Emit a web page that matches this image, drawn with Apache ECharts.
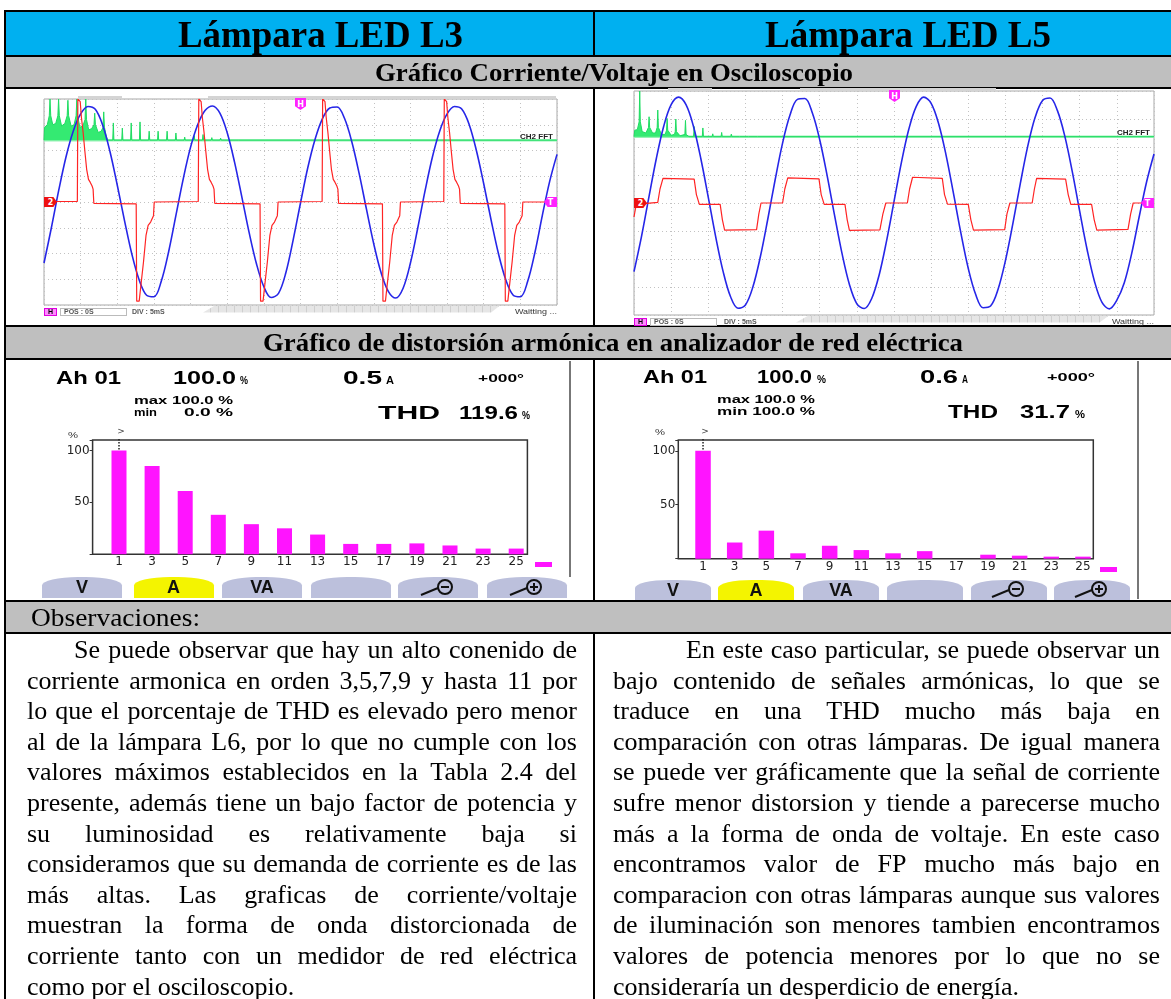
<!DOCTYPE html>
<html>
<head>
<meta charset="utf-8">
<script src="https://cdn.jsdelivr.net/npm/echarts@6/dist/echarts.min.js"></script>
<style>
  html, body { margin:0; padding:0; background:#fff; }
  body { width:1171px; height:999px; position:relative; overflow:hidden; }
  #bg, #ov { position:absolute; left:0; top:0; width:1171px; height:999px; }
  #bg { z-index:1; }
  #chart { position:absolute; left:0; top:0; width:1171px; height:999px; z-index:2; }
  #ov { z-index:3; pointer-events:none; }
  .r { position:absolute; }
  .t { position:absolute; white-space:nowrap; transform-origin:0 50%; }
  .ln { position:absolute; display:flex; justify-content:space-between; white-space:nowrap;
        font-family:'Liberation Serif','Times New Roman',serif; font-size:26px; height:30.6px; line-height:30.6px; color:#000; }
  .ln.last { justify-content:flex-start; }
  .btn { position:absolute; background:#bcc0dc; border-radius:45% 45% 0 0 / 40% 40% 0 0; display:flex; align-items:center; justify-content:center;
         font-family:'Liberation Sans',Arial,sans-serif; font-weight:bold; font-size:18px; color:#111; }
  .mk { position:absolute; color:#fff; font-family:'DejaVu Sans',sans-serif; font-weight:bold; font-size:8px; display:flex; align-items:center; justify-content:center; }
</style>
</head>
<body>
<div id="bg"></div>
<div id="chart"></div>
<div id="ov"></div>
<script>
// ================= DATA =================
const headerTitles = ['Lámpara LED L3', 'Lámpara LED L5'];
const sectionTitles = ['Gráfico Corriente/Voltaje en Osciloscopio',
                       'Gráfico de distorsión armónica en analizador de red eléctrica',
                       'Observaciones:'];

// Oscilloscope: time (ms), 5 ms/div
const timeMs = [0,1,2,3,4,5,6,7,8,9,10,11,12,13,14,15,16,17,18,19,20,21,22,23,24,25,26,27,28,29,30,31,32,33,34,35,36,37,38,39,40,41,42,43,44,45,46,47,48,49,50,51,52,53,54,55,56,57,58,59,60,61,62,63,64,65,66,67,68,69,70];
const timeTicks = [0, 70, 5];

// L3 voltage (div)
const l3Voltage = [-2.37,-1.01,0.44,1.75,2.76,3.42,3.71,3.60,2.99,1.96,
  0.65,-0.74,-2.04,-3.04,-3.62,-3.68,-3.08,-1.94,-0.52,0.90,
  2.13,3.02,3.56,3.73,3.45,2.69,1.55,0.19,-1.20,-2.41,
  -3.29,-3.71,-3.55,-2.75,-1.47,-0.04,1.34,2.45,3.24,3.65,
  3.69,3.25,2.34,1.11,-0.28,-1.63,-2.75,-3.48,-3.73,-3.35,
  -2.37,-1.01,0.44,1.75,2.76,3.42,3.71,3.61,3.02,2.00,
  0.71,-0.69,-1.99,-3.01,-3.61,-3.68,-3.08,-1.94,-0.52,0.80,
  1.85];

// L3 current (ms, div)
const l3Current = [[0,0.02],
  [4.55,0.02],[4.62,4.0],[4.94,3.9],[5.1,3.3],[5.34,2.7],[5.58,1.96],[5.82,1.27],[6.07,0.88],[6.3,0.77],[6.56,0.62],[6.7,0.5],[6.8,-0.05],
  [12.58,-0.07],[12.65,-3.85],[12.99,-3.85],[13.23,-3.22],[13.58,-2.32],[13.92,-1.3],[14.21,-0.91],[14.55,-0.78],[14.94,-0.53],[15.04,0],
  [21.05,0.02],[21.12,4.0],[21.44,3.9],[21.6,3.3],[21.84,2.7],[22.08,1.96],[22.32,1.27],[22.57,0.88],[22.8,0.77],[23.06,0.62],[23.2,0.5],[23.3,-0.05],
  [29.48,-0.07],[29.55,-3.85],[29.89,-3.85],[30.13,-3.22],[30.48,-2.32],[30.82,-1.3],[31.11,-0.91],[31.45,-0.78],[31.84,-0.53],[31.94,0],
  [37.95,0.02],[38.02,4.0],[38.34,3.9],[38.5,3.3],[38.74,2.7],[38.98,1.96],[39.22,1.27],[39.47,0.88],[39.7,0.77],[39.96,0.62],[40.1,0.5],[40.2,-0.05],
  [46.18,-0.07],[46.25,-3.85],[46.59,-3.85],[46.83,-3.22],[47.18,-2.32],[47.52,-1.3],[47.81,-0.91],[48.15,-0.78],[48.54,-0.53],[48.64,0],
  [54.55,0.02],[54.62,4.0],[54.94,3.9],[55.1,3.3],[55.34,2.7],[55.58,1.96],[55.82,1.27],[56.07,0.88],[56.3,0.77],[56.56,0.62],[56.7,0.5],[56.8,-0.05],
  [62.88,-0.07],[62.95,-3.85],[63.29,-3.85],[63.53,-3.22],[63.88,-2.32],[64.22,-1.3],[64.51,-0.91],[64.85,-0.78],[65.24,-0.53],[65.34,0],
  [70,0]];

// L3 CH2 FFT trace (ms, div)
const l3FftBase = 2.4;
const l3Fft = [[0,2.4],[0.08,2.9],[0.45,3.0],[0.72,3.35],[0.82,4.0],[0.92,3.35],[1.2,3.0],[1.6,3.05],[1.89,3.35],[1.99,4.0],[2.09,3.35],
  [2.4,2.95],[2.85,3.05],[3.16,3.35],[3.26,3.95],[3.36,3.35],[3.7,2.95],[4.1,3.0],[4.38,3.35],[4.48,4.0],[4.58,3.35],[4.9,2.9],[5.3,2.95],
  [5.6,3.2],[5.7,4.0],[5.8,3.2],[6.1,2.8],[6.5,2.85],[6.82,3.0],[6.92,3.45],[7.02,3.0],[7.4,2.7],[7.8,2.75],[8.05,2.9],[8.15,3.5],
  [8.25,2.9],[8.5,2.55],[8.7,2.4],
  [9.38,2.4],[9.46,3.07],[9.54,2.4],[10.61,2.4],[10.69,2.87],[10.77,2.4],[11.82,2.4],[11.9,3.07],[11.98,2.4],[13.02,2.4],[13.1,3.11],[13.18,2.4],
  [14.27,2.4],[14.35,2.75],[14.43,2.4],[15.49,2.4],[15.57,2.75],[15.65,2.4],[16.72,2.4],[16.8,2.75],[16.88,2.4],[17.92,2.4],[18.0,2.68],[18.08,2.4],
  [19.12,2.4],[19.2,2.52],[19.28,2.4],[20.42,2.4],[20.5,2.58],[20.58,2.4],[21.62,2.4],[21.7,2.62],[21.78,2.4],[22.82,2.4],[22.9,2.5],[22.98,2.4],
  [24.0,2.4],[24.1,2.48],[24.2,2.4],[25.3,2.4],[25.35,2.47],[25.4,2.4],[26.5,2.4],[26.55,2.47],[26.6,2.4],[27.7,2.4],[27.8,2.46],[27.9,2.4],
  [70,2.4]];

// L5 voltage (div)
const l5Voltage = [-2.45,-1.21,0.20,1.58,2.74,3.51,3.78,3.51,2.74,1.58,
  0.20,-1.21,-2.45,-3.35,-3.76,-3.64,-3.00,-1.93,-0.59,0.83,
  2.14,3.14,3.70,3.73,3.22,2.26,0.98,-0.44,-1.80,-2.91,
  -3.60,-3.77,-3.41,-2.57,-1.35,0.05,1.45,2.64,3.45,3.78,
  3.56,2.84,1.72,0.35,-1.07,-2.34,-3.27,-3.74,-3.68,-3.09,
  -2.06,-0.74,0.69,2.02,3.06,3.66,3.75,3.30,2.38,1.12,
  -0.30,-1.67,-2.81,-3.55,-3.78,-3.47,-2.85,-1.80,-0.50,0.75,
  1.75];

// L5 current (ms, div)
const l5Current = [[0,-0.5],[0.3,-0.05],[0.5,0],[3.2,0.02],[3.5,0.5],[3.9,0.88],[8.1,0.85],[8.4,0.3],[8.8,-0.05],
  [11.6,-0.05],[11.9,-0.6],[12.2,-0.97],[16.5,-0.95],[16.8,-0.4],[17.1,0],[20.0,0],[20.3,0.5],[20.7,0.9],[24.9,0.86],
  [25.2,0.3],[25.6,-0.05],[28.4,-0.05],[28.7,-0.6],[29.0,-0.98],[33.1,-0.96],[33.5,-0.4],[33.9,0],[36.8,0],[37.1,0.5],
  [37.5,0.92],[41.5,0.88],[41.8,0.3],[42.2,-0.04],[45.0,-0.05],[45.35,-0.6],[45.7,-0.97],[49.9,-0.95],[50.2,-0.4],[50.6,0],
  [53.6,0],[53.9,0.5],[54.2,0.88],[58.1,0.85],[58.45,0.3],[58.8,-0.05],[61.6,-0.05],[61.95,-0.6],[62.3,-0.97],[66.5,-0.94],
  [66.85,-0.4],[67.2,0],[70,0]];

// L5 CH2 FFT trace (ms, div)
const l5FftBase = 2.37;
const l5Fft = [[0,2.37],[0.1,2.6],[0.45,2.62],[0.69,2.9],[0.77,4.0],[0.85,2.9],[1.1,2.55],[1.6,2.5],[1.95,2.7],[2.03,3.08],[2.11,2.7],
  [2.5,2.5],[2.9,2.5],[3.12,2.7],[3.2,3.32],[3.28,2.7],[3.7,2.45],[4.2,2.45],[4.38,2.6],[4.46,3.02],[4.54,2.6],[5.0,2.42],[5.45,2.45],
  [5.55,2.55],[5.63,3.0],[5.71,2.55],[6.2,2.4],[6.85,2.45],[6.93,2.95],[7.01,2.45],[7.4,2.37],[8.02,2.37],[8.1,2.73],[8.18,2.37],
  [9.19,2.37],[9.27,2.68],[9.35,2.37],[10.52,2.37],[10.6,2.47],[10.68,2.37],[11.72,2.37],[11.8,2.52],[11.88,2.37],[13.02,2.37],
  [13.1,2.46],[13.18,2.37],[14.22,2.37],[14.3,2.44],[14.38,2.37],[15.42,2.37],[15.5,2.43],[15.58,2.37],[16.62,2.37],[16.7,2.42],
  [16.78,2.37],[70,2.37]];

// Harmonic analyzer
const harmonicOrders = ['1','3','5','7','9','11','13','15','17','19','21','23','25'];
const l3Harmonics = [100, 85, 61, 38, 29, 25, 19, 10, 10, 10.5, 8.5, 5.5, 5.5];
const l5Harmonics = [100, 15, 26, 5, 12, 8, 5, 7, 0, 3.7, 2.8, 1.9, 1.9];
const harmonicYTicks = [50, 100];
const l3Readings = {ah:'Ah 01', pct:'100.0', amp:'0.5', ang:'+000°', max:'max 100.0 %', min:'min', minv:'0.0 %', thd:'119.6'};
const l5Readings = {ah:'Ah 01', pct:'100.0', amp:'0.6', ang:'+000°', max:'max 100.0 %', min:'min 100.0 %', thd:'31.7'};

const leftText = [
  'Se puede observar que hay un alto conenido de',
  'corriente armonica en orden 3,5,7,9 y hasta 11 por',
  'lo que el porcentaje de THD es elevado pero menor',
  'al de la lámpara L6, por lo que no cumple con los',
  'valores máximos establecidos en la Tabla 2.4 del',
  'presente, además tiene un bajo factor de potencia y',
  'su luminosidad es relativamente baja si',
  'consideramos que su demanda de corriente es de las',
  'más altas. Las graficas de corriente/voltaje',
  'muestran la forma de onda distorcionada de',
  'corriente tanto con un medidor de red eléctrica',
  'como por el osciloscopio.'];
const rightText = [
  'En este caso particular, se puede observar un',
  'bajo contenido de señales armónicas, lo que se',
  'traduce en una THD mucho más baja en',
  'comparación con otras lámparas. De igual manera',
  'se puede ver gráficamente que la señal de corriente',
  'sufre menor distorsion y tiende a parecerse mucho',
  'más a la forma de onda de voltaje. En este caso',
  'encontramos valor de FP mucho más bajo en',
  'comparacion con otras lámparas aunque sus valores',
  'de iluminación son menores tambien encontramos',
  'valores de potencia menores por lo que no se',
  'consideraría un desperdicio de energía.'];

// ================= LAYOUT HELPERS =================
const bg = document.getElementById('bg');
const ov = document.getElementById('ov');
function rect(p, x, y, w, h, color, extra) {
  const e = document.createElement('div'); e.className = 'r';
  e.style.left = x + 'px'; e.style.top = y + 'px'; e.style.width = w + 'px'; e.style.height = h + 'px';
  if (color) e.style.background = color;
  if (extra) Object.assign(e.style, extra);
  p.appendChild(e); return e;
}
function txt(s, x0, x1, cy, size, o) {
  o = o || {};
  const e = document.createElement('div'); e.className = 't'; e.textContent = s;
  e.style.fontFamily = o.f || "'Liberation Sans',Arial,sans-serif";
  e.style.fontWeight = o.w || 'normal';
  e.style.fontSize = size + 'px'; e.style.lineHeight = size + 'px';
  e.style.color = o.c || '#000';
  e.style.left = x0 + 'px'; e.style.top = (cy - size / 2) + 'px';
  ov.appendChild(e);
  if (x1 != null) {
    const w = e.getBoundingClientRect().width;
    e.style.transform = 'scaleX(' + ((x1 - x0) / w) + ')';
  }
  return e;
}

// ---- table backgrounds
rect(bg, 6, 11, 1170, 45, '#00b0f0');
rect(bg, 6, 56, 1170, 32, '#bfbfbf');
rect(bg, 6, 326, 1170, 33, '#bfbfbf');
rect(bg, 6, 601, 1170, 32, '#bfbfbf');
// ---- table lines (overlay)
const B = '#000';
[10, 55, 87, 325, 358, 600, 632].forEach(y => rect(ov, 4, y, 1175, 2, B));
rect(ov, 4, 10, 2, 989, B);
[[10, 46], [87, 239], [358, 243], [632, 367]].forEach(([y, h]) => rect(ov, 593, y, 2, h, B));

// ---- headings
const SERIF = "'Liberation Serif','Times New Roman',serif";
txt(headerTitles[0], 178, 463, 34.5, 37, {f: SERIF, w: 'bold'});
txt(headerTitles[1], 765, 1051, 34.5, 37, {f: SERIF, w: 'bold'});
txt(sectionTitles[0], 375, 853, 72.5, 25, {f: SERIF, w: 'bold'});
txt(sectionTitles[1], 263, 963, 342.5, 25, {f: SERIF, w: 'bold'});
txt(sectionTitles[2], 31, 200, 618, 26, {f: SERIF});

// ---- paragraphs
function para(lines, x, w, indent) {
  lines.forEach((s, i) => {
    const e = document.createElement('div');
    e.className = 'ln' + (i === lines.length - 1 ? ' last' : '');
    const l = i === 0 ? x + indent : x;
    e.style.left = l + 'px'; e.style.width = (w - (l - x)) + 'px';
    e.style.top = (635 + 30.6 * i) + 'px';
    if (i === lines.length - 1) e.textContent = s;
    else s.split(' ').forEach(wd => { const sp = document.createElement('span'); sp.textContent = wd; e.appendChild(sp); });
    ov.appendChild(e);
  });
}
para(leftText, 27, 550, 47);
para(rightText, 613, 547, 73);

// ---- oscilloscope decorations
function marker(x, y, w, h, color, letter, dir) {
  const e = rect(ov, x, y, w, h, color); e.className = 'mk';
  const polys = {
    right: 'polygon(0 0,72% 0,100% 50%,72% 100%,0 100%)',
    left: 'polygon(28% 0,100% 0,100% 100%,28% 100%,0 50%)',
    down: 'polygon(0 0,100% 0,100% 68%,50% 100%,0 68%)'
  };
  e.style.clipPath = polys[dir]; e.textContent = letter;
  return e;
}
function scopeChrome(s) {
  s.tabs.forEach(([a, b]) => rect(ov, a, s.tabY, b - a, 3, '#d4d4d4'));
  marker(s.x0, s.zeroY - 5, 13, 10, '#ee1111', '2', 'right');
  marker(s.x1 - 13, s.zeroY - 5, 13, 10, '#ff22ff', 'T', 'left');
  marker(s.hx - 5, s.top - 1, 11, 12, '#ff22ff', 'H', 'down');
  txt('CH2  FFT', s.x1 - 37, s.x1 - 4, s.fftY - 4, 7, {w: 'bold', c: '#222'});
  const sy = s.statY;
  rect(ov, s.x0, sy - 4, 13, 8, '#ff88ff', {border: '1px solid #e000e0', boxSizing: 'border-box'});
  txt('H', s.x0 + 4, null, sy, 7, {w: 'bold', c: '#000'});
  rect(ov, s.x0 + 16, sy - 4, s.posW, 8, '#fff', {border: '1px solid #bbb', boxSizing: 'border-box'});
  txt('POS : 0S', s.x0 + 20, null, sy, 7, {w: 'bold', c: '#555'});
  txt('DIV : 5mS', s.divX, null, sy, 7, {w: 'bold', c: '#555'});
  rect(ov, s.rulerX0, sy - 6, s.rulerX1 - s.rulerX0, 7, null, {
    background: 'repeating-linear-gradient(90deg,#e6e6e6 0 7px,#cfcfcf 7px 8px)',
    clipPath: 'polygon(4% 0,100% 0,97% 100%,0 100%)'});
  txt('Waitting ...', s.x1 - 42, s.x1, sy, 8, {c: '#333'});
}
scopeChrome({x0: 44, x1: 557, top: 99, zeroY: 202, hx: 300, fftY: 140, statY: 311.5, tabY: 96, tabs: [[78, 122], [208, 556]],
  posW: 67, divX: 132, rulerX0: 203, rulerX1: 500});
scopeChrome({x0: 634, x1: 1154, top: 91, zeroY: 203, hx: 894, fftY: 136, statY: 321.5, tabY: 88, tabs: [[668, 712], [800, 996]],
  posW: 67, divX: 724, rulerX0: 796, rulerX1: 1109});

// ---- analyzer screens
function analyzer(a) {
  rect(ov, a.border, 361, 1.5, a.borderH, '#777');
  const r = a.read, B = {w: 'bold'};
  txt(r.ah, a.ah[0], a.ah[1], a.y1, 18, B);
  txt(r.pct, a.pct[0], a.pct[1], a.y1, 18, B);
  txt('%', a.pctU[0], a.pctU[1], a.y1 + 3, 10, B);
  txt(r.amp, a.amp[0], a.amp[1], a.y1, 18, B);
  txt('A', a.ampU[0], a.ampU[1], a.y1 + 3, 10, B);
  txt(r.ang, a.ang[0], a.ang[1], a.y1 + 1, 10, B);
  txt(r.max, a.mx[0], a.mx[1], a.y2, 10, B);
  txt(r.min, a.mn[0], a.mn[1], a.y3, 10, B);
  if (r.minv) txt(r.minv, a.mnv[0], a.mnv[1], a.y3, 10, B);
  txt('THD', a.thd[0], a.thd[1], a.y3, 19, B);
  txt(r.thd, a.thdv[0], a.thdv[1], a.y3, 19, B);
  txt('%', a.thdU[0], a.thdU[1], a.y3 + 3, 10, B);
  txt('%', a.unit[0], a.unit[1], a.unitY, 9, {c: '#333'});
  rect(ov, a.sw[0], a.sw[1], 17, 5, '#ff14ff');
  const names = ['V', 'A', 'VA', '', '-', '+'];
  a.btns.forEach((bx, i) => {
    const b = rect(ov, bx, a.btnY, a.btnW, a.btnH, i === 1 ? '#f4f400' : '#bcc0dc'); b.className = 'btn';
    if (i < 4) b.textContent = names[i];
    else b.innerHTML = '<svg width="40" height="20" viewBox="0 0 40 20"><line x1="3" y1="17" x2="20" y2="10" stroke="#111" stroke-width="2"/>' +
      '<circle cx="27" cy="9" r="7" fill="none" stroke="#111" stroke-width="2"/><line x1="23" y1="9" x2="31" y2="9" stroke="#111" stroke-width="2"/>' +
      (names[i] === '+' ? '<line x1="27" y1="5" x2="27" y2="13" stroke="#111" stroke-width="2"/>' : '') + '</svg>';
  });
}
analyzer({read: l3Readings, border: 569, borderH: 216, y1: 378, y2: 401, y3: 412.5, unitY: 435,
  ah: [56, 121], pct: [173, 236], pctU: [240, 248], amp: [343, 382], ampU: [386, 394], ang: [478, 524],
  mx: [134, 233], mn: [134, 157], mnv: [184, 233], thd: [378, 440], thdv: [459, 518], thdU: [522, 530],
  unit: [68, 78], sw: [535, 562],
  btns: [42, 133.5, 222, 311, 398, 486.5], btnY: 577, btnW: 80, btnH: 21});
analyzer({read: l5Readings, border: 1137, borderH: 238, y1: 377, y2: 400, y3: 411.5, unitY: 432,
  ah: [643, 707], pct: [757, 812], pctU: [817, 826], amp: [920, 958], ampU: [962, 968], ang: [1047, 1095],
  mx: [717, 815], mn: [717, 815], thd: [948, 998], thdv: [1020, 1070], thdU: [1075, 1085],
  unit: [655, 665], sw: [1100, 566.5],
  btns: [635, 718, 803, 887, 971, 1054], btnY: 580, btnW: 76, btnH: 20});

// ================= CHART =================
const chart = echarts.init(document.getElementById('chart'), null, {renderer: 'canvas'});
const dotted = {show: true, lineStyle: {color: '#c2c2c2', type: [1, 3], width: 1}};
function scopeX(g) {
  return {gridIndex: g, type: 'value', min: timeTicks[0], max: timeTicks[1], interval: timeTicks[2],
    axisLine: {show: false}, axisTick: {show: false}, axisLabel: {show: false}, splitLine: dotted};
}
function scopeY(g) {
  return {gridIndex: g, type: 'value', min: -4, max: 4, interval: 1,
    axisLine: {show: false}, axisTick: {show: false}, axisLabel: {show: false}, splitLine: dotted};
}
function catX(g) {
  return {gridIndex: g, type: 'category', data: harmonicOrders, axisLine: {show: false}, axisTick: {show: false},
    axisLabel: {interval: 0, fontSize: 12, color: '#222', margin: 2, fontFamily: 'DejaVu Sans'}, splitLine: {show: false}};
}
function boxY(g) {
  return {gridIndex: g, type: 'value', min: 0, max: 110, interval: 50, axisLine: {show: false},
    axisTick: {show: true, length: 3, lineStyle: {color: '#333'}},
    axisLabel: {fontSize: 12, color: '#222', margin: 3, fontFamily: 'DejaVu Sans',
      formatter: v => harmonicYTicks.includes(v) ? String(v) : ''},
    splitLine: {show: false}};
}
function pairs(t, v) { return t.map((x, i) => [x, v[i]]); }
function scopeSeries(ax, base, fft, volt, cur) {
  return [
    {type: 'line', xAxisIndex: ax, yAxisIndex: ax, data: [[timeTicks[0], base], [timeTicks[1], base]], symbol: 'none',
      lineStyle: {color: '#96f2b4', width: 2.5}, z: 1, silent: true},
    {type: 'line', xAxisIndex: ax, yAxisIndex: ax, data: fft, symbol: 'none',
      lineStyle: {color: '#1fdc62', width: 1}, areaStyle: {color: '#34ea72', opacity: 1, origin: base}, z: 2, silent: true},
    {type: 'line', xAxisIndex: ax, yAxisIndex: ax, data: pairs(timeMs, volt), symbol: 'none', smooth: 0.35,
      lineStyle: {color: '#2626e8', width: 1.6}, z: 3, silent: true},
    {type: 'line', xAxisIndex: ax, yAxisIndex: ax, data: cur, symbol: 'none',
      lineStyle: {color: '#ff2424', width: 1.2}, z: 4, silent: true}
  ];
}
const option = {
  animation: false,
  grid: [
    {left: 44, top: 99, width: 513, height: 206, show: true, borderColor: '#a8a8a8', borderWidth: 1, backgroundColor: '#fff'},
    {left: 634, top: 91, width: 520, height: 224, show: true, borderColor: '#a8a8a8', borderWidth: 1, backgroundColor: '#fff'},
    {left: 92.6, top: 440, width: 434.8, height: 114.3, show: true, borderColor: '#333', borderWidth: 1.5},
    {left: 102.45, top: 440, width: 430.3, height: 114.3},
    {left: 678.3, top: 440, width: 415, height: 118.7, show: true, borderColor: '#333', borderWidth: 1.5},
    {left: 687.2, top: 440, width: 411.6, height: 118.7}
  ],
  xAxis: [scopeX(0), scopeX(1), {gridIndex: 2, type: 'value', min: 0, max: 1, show: false}, catX(3),
          {gridIndex: 4, type: 'value', min: 0, max: 1, show: false}, catX(5)],
  yAxis: [scopeY(0), scopeY(1), boxY(2), {gridIndex: 3, type: 'value', min: 0, max: 110, show: false},
          boxY(4), {gridIndex: 5, type: 'value', min: 0, max: 110, show: false}],
  series: [
    ...scopeSeries(0, l3FftBase, l3Fft, l3Voltage, l3Current),
    ...scopeSeries(1, l5FftBase, l5Fft, l5Voltage, l5Current),
    {type: 'bar', xAxisIndex: 3, yAxisIndex: 3, data: l3Harmonics, barWidth: 15, itemStyle: {color: '#ff14ff'}, silent: true},
    {type: 'bar', xAxisIndex: 5, yAxisIndex: 5, data: l5Harmonics, barWidth: 15.5, itemStyle: {color: '#ff14ff'}, silent: true}
  ]
};
chart.setOption(option);

// cursor ">" and dotted line above the fundamental
const graphics = [];
[[3, 440], [5, 440]].forEach(([ax, top]) => {
  const p = chart.convertToPixel({xAxisIndex: ax, yAxisIndex: ax}, [harmonicOrders[0], ax === 3 ? l3Harmonics[0] : l5Harmonics[0]]);
  graphics.push({type: 'line', shape: {x1: p[0], y1: top - 1, x2: p[0], y2: p[1]}, style: {stroke: '#222', lineWidth: 1.5, lineDash: [1.5, 1.5]}, z: 10});
  graphics.push({type: 'text', x: p[0] + 2, y: top - 8, style: {text: '>', fill: '#444', font: '9px DejaVu Sans', align: 'center', verticalAlign: 'middle'}, z: 10});
});
chart.setOption({graphic: graphics});
</script>
</body>
</html>
